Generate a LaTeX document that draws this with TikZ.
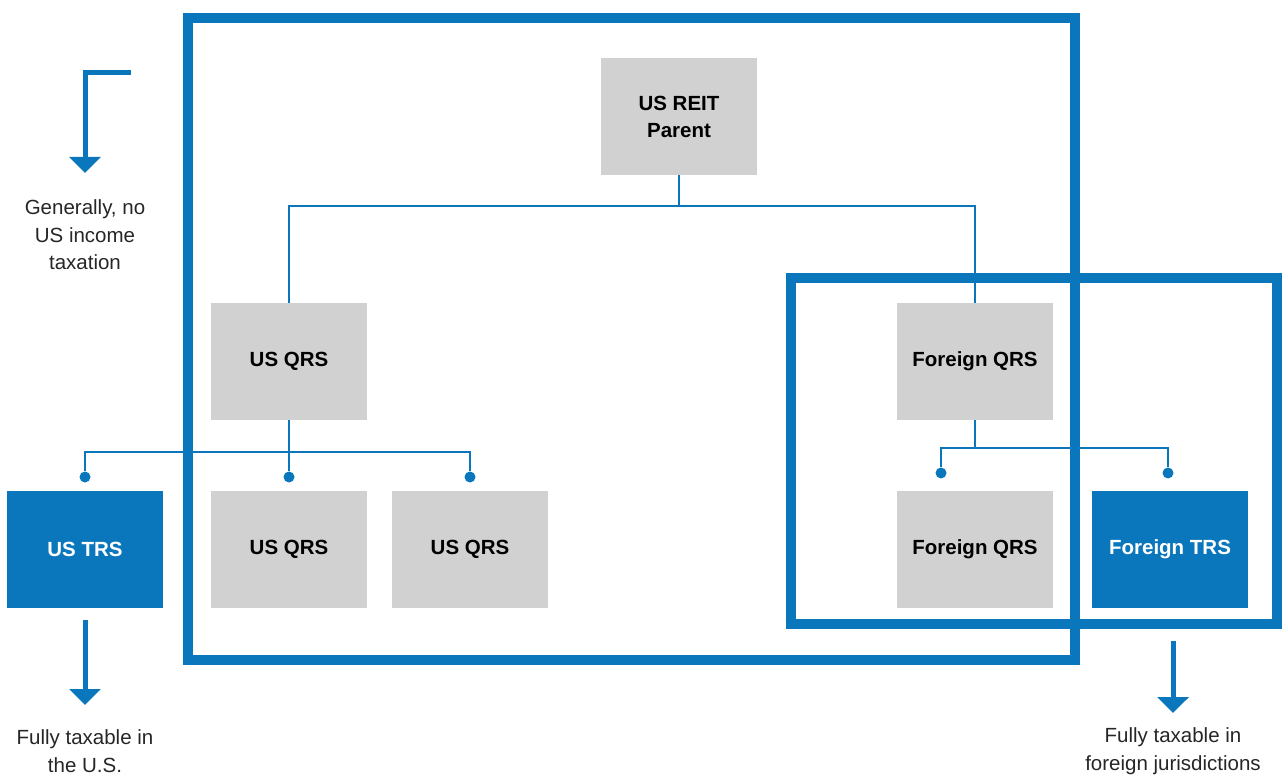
\documentclass[tikz,border=0pt]{standalone}
\usepackage{fontspec}
\setmainfont{Liberation Sans}
\usetikzlibrary{arrows.meta}
\definecolor{bleu}{HTML}{0A77BD}
\definecolor{gris}{HTML}{D0D1D0}
\definecolor{texte}{HTML}{262626}
\begin{document}
\begin{tikzpicture}[x=1pt,y=-1pt]
	\tikzstyle{boite}=[minimum width=156pt,minimum height=117pt,inner sep=0pt,align=center,font=\fontsize{20.5}{27}\selectfont\bfseries]
	\tikzstyle{qrs}=[boite,fill=gris,text=black]
	\tikzstyle{trs}=[boite,fill=bleu,text=white]
	\tikzstyle{cadre}=[draw=bleu,line width=10pt]
	\tikzstyle{lien}=[draw=bleu,line width=2.5pt]
	\tikzstyle{point}=[circle,fill=bleu,inner sep=0pt,minimum size=11pt]
	\tikzstyle{fleche}=[draw=bleu,line width=5pt,-{Triangle[width=31pt,length=16pt]}]
	\tikzstyle{note}=[align=center,text=texte,font=\fontsize{20.5}{27.5}\selectfont]
	\def\NiveauA{116.5}\def\NiveauB{361.5}\def\NiveauC{549.5}
	\useasboundingbox (0,0) rectangle (1282,775);
	%
	\draw[cadre] (188,18) rectangle (1075,660);
	\draw[cadre] (791,278) rectangle (1277,624);
	%
	\node[qrs] (P) at (679,\NiveauA) {US REIT\\Parent};
	\node[qrs] (Qa) at (289,\NiveauB) {US QRS};
	\node[qrs] (Qb) at (975,\NiveauB) {Foreign QRS};
	\node[trs] (Ta) at (85,\NiveauC) {US TRS};
	\node[qrs] (Qaa) at (289,\NiveauC) {US QRS};
	\node[qrs] (Qab) at (470,\NiveauC) {US QRS};
	\node[qrs] (Qba) at (975,\NiveauC) {Foreign QRS};
	\node[trs] (Tb) at (1170,\NiveauC) {Foreign TRS};
	%
	\node[point] (Da) at (85,477) {};
	\node[point] (Db) at (289,477) {};
	\node[point] (Dc) at (470,477) {};
	\node[point] (Dd) at (941,473) {};
	\node[point] (De) at (1168,473) {};
	%
	\draw[lien] (P.south) -- ++(0,31) -| (Qa.north);
	\draw[lien] (P.south) -- ++(0,31) -| (Qb.north);
	\draw[lien] (Qa.south) -- ++(0,32) -| (Da);
	\draw[lien] (Qa.south) -- ++(0,32) -| (Dc);
	\draw[lien] (Qa.south) -- (Db);
	\draw[lien] (Qb.south) -- ++(0,28) -| (Dd);
	\draw[lien] (Qb.south) -- ++(0,28) -| (De);
	%
	\node[note] (Na) at (85,235) {Generally, no\\US income\\taxation};
	\node[note] (Nb) at (85,751) {Fully taxable in\\the U.S.};
	\node[note] (Nc) at (1173,751) {Fully taxable in\\foreign jurisdictions};
	%
	\coordinate (Aa) at (131,73);
	\coordinate (Ab) at (85,173);
	\coordinate (Ba) at (85,705);
	\coordinate (Ca) at (1173,641);
	\coordinate (Cb) at (1173,713);
	\draw[fleche] (Aa) -| (Ab);
	\draw[fleche,shorten <=12pt] (Ta.south) -- (Ba);
	\draw[fleche] (Ca) -- (Cb);
\end{tikzpicture}
\end{document}
